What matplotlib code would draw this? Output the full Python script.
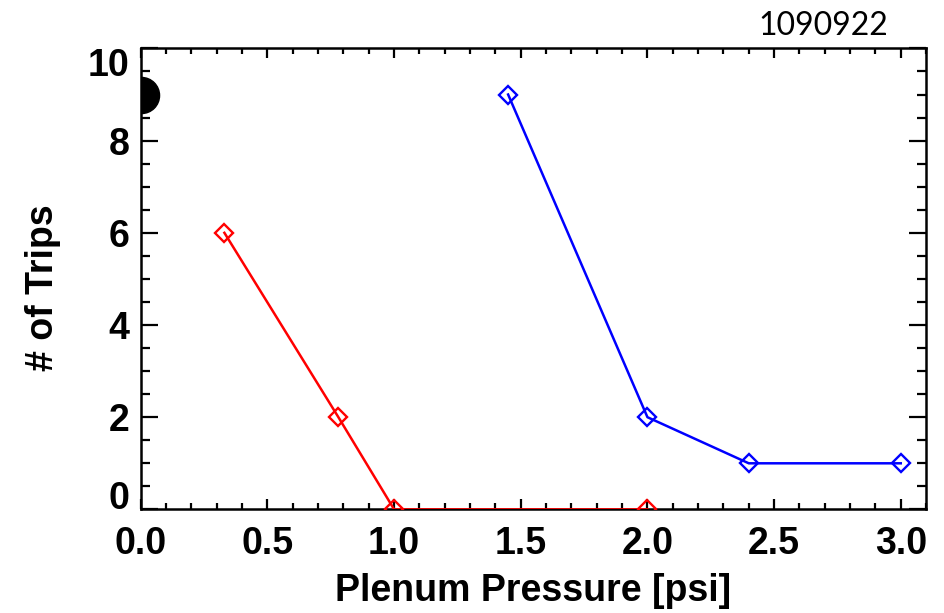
import matplotlib.pyplot as plt
from matplotlib.ticker import MultipleLocator

# data
red_x = [0.33, 0.78, 1.0, 2.0]
red_y = [6, 2, 0, 0]
blue_x = [1.45, 2.0, 2.4, 3.0]
blue_y = [9, 2, 1, 1]
dot_x = [0.0]
dot_y = [9]

x_ticks = [0.0, 0.5, 1.0, 1.5, 2.0, 2.5, 3.0]
y_ticks = [0, 2, 4, 6, 8, 10]

plt.rcParams['font.family'] = ['Liberation Sans', 'DejaVu Sans']

fig = plt.figure(figsize=(9.45, 6.13), dpi=100)
ax = fig.add_axes([0.149, 0.169, 0.831, 0.752])

ax.plot(red_x, red_y, color='#ff0000', lw=1.8, marker='D', ms=9.5,
        mfc='none', mec='#ff0000', mew=1.7, zorder=3)
ax.plot(blue_x, blue_y, color='#0000ff', lw=1.8, marker='D', ms=9.5,
        mfc='none', mec='#0000ff', mew=1.7, zorder=3)
ax.plot(dot_x, dot_y, 'o', color='black', ms=26, zorder=4)

ax.set_xlim(0, 3.1)
ax.set_ylim(0, 10)
ax.set_xticks(x_ticks)
ax.set_xticklabels(['%.1f' % v for v in x_ticks])
ax.set_yticks(y_ticks)
ax.set_yticklabels([str(v) for v in y_ticks])
ax.xaxis.set_minor_locator(MultipleLocator(0.1))
ax.yaxis.set_minor_locator(MultipleLocator(0.5))

for s in ax.spines.values():
    s.set_linewidth(1.8)

ax.tick_params(axis='x', which='major', direction='in', length=7, width=1.6,
               top=True, pad=12, labelsize=27)
ax.tick_params(axis='x', which='minor', direction='in', length=4, width=1.6,
               top=True)
ax.tick_params(axis='y', which='major', direction='in', length=12, width=1.6,
               right=True, pad=8, labelsize=27)
ax.tick_params(axis='y', which='minor', direction='in', length=6.5, width=1.6,
               right=True)

for lab in ax.get_xticklabels() + ax.get_yticklabels():
    lab.set_fontweight('bold')
ylabs = ax.get_yticklabels()
ylabs[0].set_va('baseline')
ylabs[-1].set_va('top')

ax.set_xlabel('Plenum Pressure [psi]', fontsize=27, fontweight='bold')
ax.set_ylabel('# of Trips', fontsize=27, fontweight='bold')
ax.xaxis.set_label_coords(0.5, -0.138)
ax.yaxis.set_label_coords(-0.101, 0.48)

fig.text(0.94, 0.958, '1090922', fontsize=23, family='Lato',
         ha='right', va='center')

fig.savefig('out.png', dpi=100)
